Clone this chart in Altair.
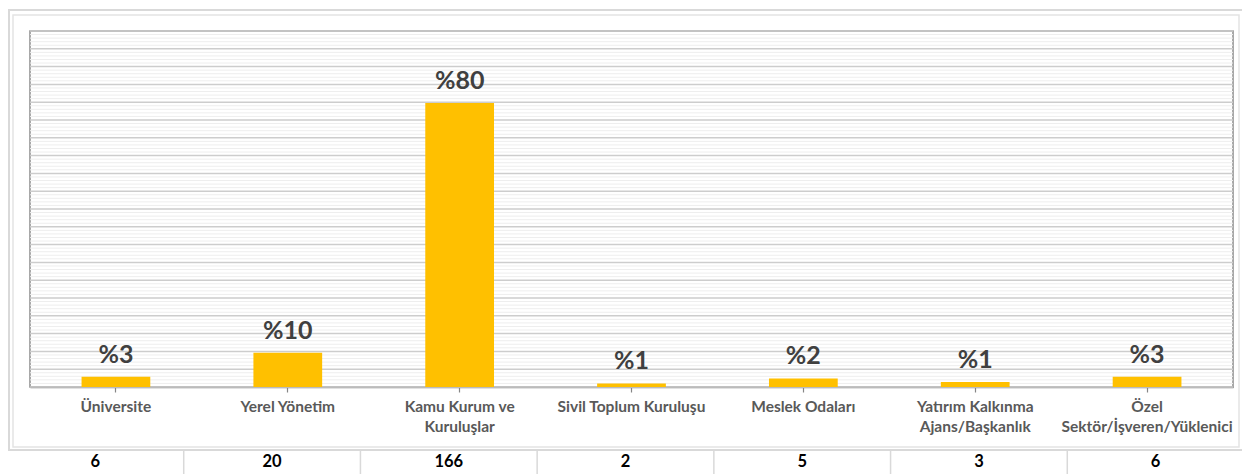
import altair as alt
import pandas as pd

categories = ["Üniversite", "Yerel Yönetim", "Kamu Kurum ve|Kuruluşlar", "Sivil Toplum Kuruluşu",
              "Meslek Odaları", "Yatırım Kalkınma|Ajans/Başkanlık", "Özel|Sektör/İşveren/Yüklenici"]
percent = [2.9, 9.6, 79.8, 1.0, 2.4, 1.4, 2.9]
pct_labels = ["%3", "%10", "%80", "%1", "%2", "%1", "%3"]
counts = [6, 20, 166, 2, 5, 3, 6]
grid_values = list(range(0, 101))

df = pd.DataFrame({"cat": categories, "pct": percent, "lab": pct_labels, "n": [str(c) for c in counts]})
gdf = pd.DataFrame({"g": grid_values, "major": [v % 5 == 0 for v in grid_values]})

FONT = "Lato"
W, H = 1203, 356

yscale = alt.Scale(domain=[0, 100], nice=False)

xenc = alt.X("cat:N", sort=categories, title=None,
             scale=alt.Scale(paddingInner=0.6, paddingOuter=0.3),
             axis=alt.Axis(labelAngle=0, labelExpr="split(datum.label, '|')",
                           labelFont=FONT, labelFontSize=15.5, labelFontWeight="bold",
                           labelColor="#595959", labelPadding=7, labelLineHeight=20,
                           domainColor="#868686", domainWidth=1.5,
                           tickColor="#868686", tickSize=5, tickWidth=1.2))

grid_minor = alt.Chart(gdf).transform_filter("!datum.major").mark_rule(
    color="#eeeeee", strokeWidth=1).encode(
    y=alt.Y("g:Q", scale=yscale, axis=None))
grid_major = alt.Chart(gdf).transform_filter("datum.major").mark_rule(
    color="#cdcdcd", strokeWidth=1.5).encode(
    y=alt.Y("g:Q", scale=yscale, axis=None))

base = alt.Chart(df)
bars = base.mark_bar(color="#FFC000").encode(
    x=xenc, y=alt.Y("pct:Q", scale=yscale, axis=None, title=None))
labels = base.mark_text(font=FONT, fontSize=25, fontWeight="bold", color="#404040",
                        baseline="bottom", dy=-9).encode(
    x=alt.X("cat:N", sort=categories), y=alt.Y("pct:Q", scale=yscale, axis=None), text="lab:N")
main = alt.layer(grid_minor, grid_major, bars, labels)

tscale = alt.Scale(range=[-23, 1214], paddingInner=0, paddingOuter=0)
table_text = base.mark_text(font=FONT, fontSize=16.5, fontWeight="bold", color="#000000",
                            baseline="middle").encode(
    x=alt.X("cat:N", sort=categories, axis=None, scale=tscale), y=alt.value(431), text="n:N")
table_sep = base.mark_rule(color="#d9d9d9", strokeWidth=1.5).encode(
    x=alt.X("cat:N", sort=categories, axis=None, bandPosition=0, scale=tscale),
    y=alt.value(419), y2=alt.value(445))
table = alt.layer(table_sep, table_text)

outer = alt.Chart(pd.DataFrame({"k": [0]})).mark_rect(fill=None, stroke="#d9d9d9", strokeWidth=2).encode(
    x=alt.value(-21), x2=alt.value(1225), y=alt.value(-21), y2=alt.value(419))
inner = alt.Chart(pd.DataFrame({"k": [0]})).mark_rect(fill=None, stroke="#e4e4e4", strokeWidth=1.5).encode(
    x=alt.value(-17), x2=alt.value(1209), y=alt.value(-16), y2=alt.value(416))

chart = alt.layer(outer, inner, main, table).resolve_scale(x="independent").properties(
    width=W, height=H,
    autosize=alt.AutoSizeParams(type="none"),
    padding={"left": 22, "top": 23, "right": 9, "bottom": 87},
).configure_view(stroke="#8c8c8c", strokeWidth=1.5)

chart.save("out.html", embed_options={"renderer": "svg", "actions": False})
